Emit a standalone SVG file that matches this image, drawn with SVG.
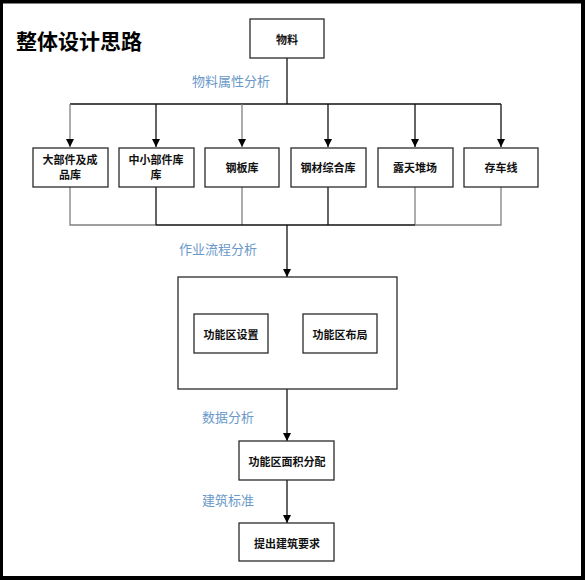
<svg xmlns="http://www.w3.org/2000/svg" width="585" height="580" viewBox="0 0 585 580">
<style>
.frame{fill:none;stroke:#000;stroke-width:4}
.box{fill:#fff;stroke:#2a2a2a;stroke-width:1.3}
.t{font-family:"Noto Sans CJK SC","Liberation Sans",sans-serif;font-size:11px;font-weight:bold;fill:#111;text-anchor:middle;dominant-baseline:central}
.lbl{font-family:"Noto Sans CJK SC","Liberation Sans",sans-serif;font-size:13px;fill:#6a98c9;dominant-baseline:central}
.title{font-family:"Noto Sans CJK SC","Liberation Sans",sans-serif;font-size:21px;font-weight:bold;fill:#000;dominant-baseline:central}
.k{fill:none;stroke:#111;stroke-width:1.3}
.g{fill:none;stroke:#808080;stroke-width:1.3}
</style>
<defs>
<marker id="arr" viewBox="0 0 10 10" refX="10" refY="5" markerWidth="8" markerHeight="8" markerUnits="userSpaceOnUse" orient="auto">
<path d="M0,0 L10,5 L0,10 z" fill="#000"/>
</marker>
</defs>
<rect x="0" y="0" width="585" height="580" fill="#fff"/>
<rect class="frame" x="1" y="1.5" width="582" height="576.5"/>
<text class="title" x="16" y="40">整体设计思路</text>

<g id="connectors">
<line class="k" x1="287" y1="58" x2="287" y2="104"/>
<line class="k" x1="70" y1="104" x2="501" y2="104"/>
<line class="g" x1="70" y1="104" x2="70" y2="147" marker-end="url(#arr)"/>
<line class="k" x1="156" y1="104" x2="156" y2="147" marker-end="url(#arr)"/>
<line class="g" x1="242" y1="104" x2="242" y2="147" marker-end="url(#arr)"/>
<line class="k" x1="328" y1="104" x2="328" y2="147" marker-end="url(#arr)"/>
<line class="k" x1="415" y1="104" x2="415" y2="147" marker-end="url(#arr)"/>
<line class="k" x1="501" y1="104" x2="501" y2="147" marker-end="url(#arr)"/>
<polyline class="g" points="70,187 70,225 156,225"/>
<line class="k" x1="156" y1="187" x2="156" y2="225"/>
<line class="g" x1="242" y1="187" x2="242" y2="225"/>
<line class="k" x1="328" y1="187" x2="328" y2="225"/>
<line class="g" x1="415" y1="187" x2="415" y2="225"/>
<polyline class="g" points="501,187 501,225 415,225"/>
<line class="k" x1="156" y1="225" x2="415" y2="225"/>
<line class="k" x1="287" y1="225" x2="287" y2="277" marker-end="url(#arr)"/>
<line class="k" x1="287" y1="389" x2="287" y2="441" marker-end="url(#arr)"/>
<line class="k" x1="287" y1="480" x2="287" y2="523" marker-end="url(#arr)"/>
</g>

<text class="lbl" x="192" y="80">物料属性分析</text>
<text class="lbl" x="179" y="248">作业流程分析</text>
<text class="lbl" x="202" y="416">数据分析</text>
<text class="lbl" x="202" y="499">建筑标准</text>

<g id="wuliao"><rect class="box" x="250" y="19" width="74" height="39"/><text class="t" x="287" y="39">物料</text></g>
<g id="n1"><rect class="box" x="33" y="148" width="75" height="39"/><text class="t" x="70" y="159">大部件及成</text><text class="t" x="70" y="174">品库</text></g>
<g id="n2"><rect class="box" x="119" y="148" width="75" height="39"/><text class="t" x="156" y="159">中小部件库</text><text class="t" x="156" y="174">库</text></g>
<g id="n3"><rect class="box" x="205" y="148" width="74" height="39"/><text class="t" x="242" y="167">钢板库</text></g>
<g id="n4"><rect class="box" x="291" y="148" width="75" height="39"/><text class="t" x="328" y="167">钢材综合库</text></g>
<g id="n5"><rect class="box" x="378" y="148" width="75" height="39"/><text class="t" x="415" y="167">露天堆场</text></g>
<g id="n6"><rect class="box" x="464" y="148" width="74" height="39"/><text class="t" x="501" y="167">存车线</text></g>
<g id="group"><rect class="box" x="178" y="277" width="219" height="112"/></g>
<g id="setup"><rect class="box" x="194" y="314" width="74" height="39"/><text class="t" x="231" y="334">功能区设置</text></g>
<g id="layout"><rect class="box" x="303" y="314" width="74" height="39"/><text class="t" x="340" y="334">功能区布局</text></g>
<g id="area"><rect class="box" x="239" y="441" width="95" height="39"/><text class="t" x="287" y="461">功能区面积分配</text></g>
<g id="req"><rect class="box" x="239" y="523" width="95" height="38"/><text class="t" x="287" y="543">提出建筑要求</text></g>
</svg>
